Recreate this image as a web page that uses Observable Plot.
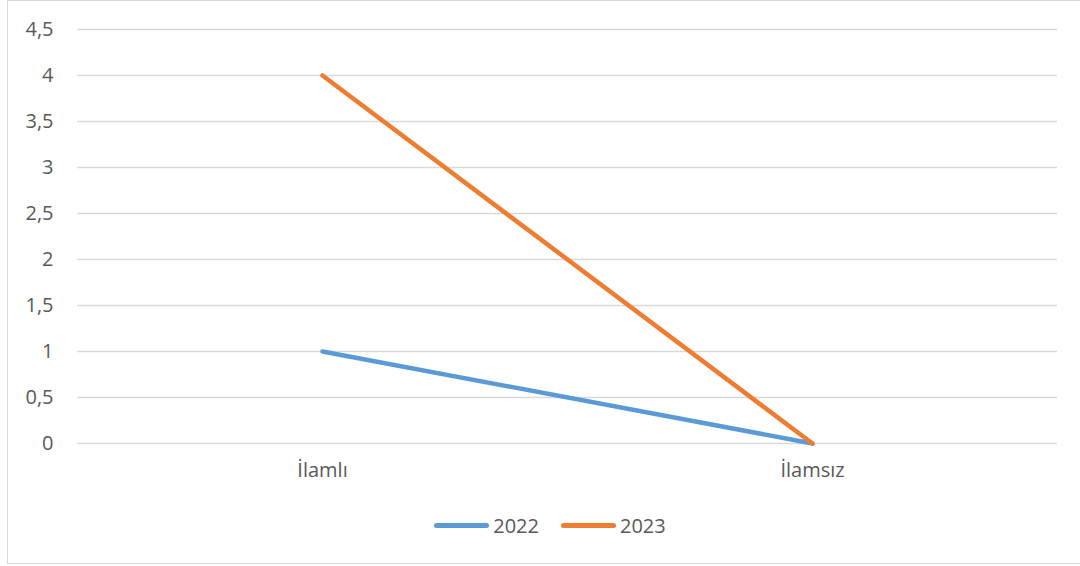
<!DOCTYPE html>
<html>
<head>
<meta charset="utf-8">
<script src="https://cdn.jsdelivr.net/npm/d3@7"></script>
<script src="https://cdn.jsdelivr.net/npm/@observablehq/plot@0.6"></script>
<style>
  html, body { margin: 0; padding: 0; background: #fff; }
  #wrap { position: relative; width: 1080px; height: 566px; overflow: hidden; font-family: "Open Sans", sans-serif; }
  #frame { position: absolute; left: 7px; top: 0px; width: 1080px; height: 564px; border: 1px solid #d9d9d9; box-sizing: border-box; }
  #chart { position: absolute; left: 0; top: 0; }
  #legend { position: absolute; left: 0; width: 1080px; top: 512px; display: flex; justify-content: center; align-items: center; color: #595959; font-size: 20px; padding-left: 20px; box-sizing: border-box; }
  .item { display: flex; align-items: center; margin: 0 11px; }
  .sw { display: inline-block; width: 55px; height: 5px; border-radius: 3px; margin-right: 4px; }
</style>
</head>
<body>
<div id="wrap">
  <div id="frame"></div>
  <div id="chart"></div>
  <div id="legend"></div>
</div>
<script>
const categories = ["İlamlı", "İlamsız"];
const seriesNames = ["2022", "2023"];
const values2022 = [1, 0];
const values2023 = [4, 0];
const yTicks = [0, 0.5, 1, 1.5, 2, 2.5, 3, 3.5, 4, 4.5];
const colors = ["#5B9BD5", "#ED7D31"];

const rows = [];
[values2022, values2023].forEach((vals, i) => {
  categories.forEach((c, j) => rows.push({ category: c, value: vals[j], series: seriesNames[i] }));
});

const fmt = d => String(d).replace(".", ",");

const plot = Plot.plot({
  width: 1080,
  height: 500,
  marginLeft: 77,
  marginRight: 23,
  marginTop: 29,
  marginBottom: 57,
  style: { fontFamily: "'Open Sans', sans-serif", fontSize: "20px", color: "#595959", background: "transparent" },
  x: { type: "band", domain: categories, padding: 0, label: null },
  y: { domain: [0, 4.5], label: null },
  color: { domain: seriesNames, range: colors },
  marks: [
    Plot.gridY(yTicks, { stroke: "#d9d9d9", strokeOpacity: 1, strokeWidth: 1.3 }),
    Plot.axisY(yTicks, { tickSize: 0, tickPadding: 24, tickFormat: fmt, label: null, fill: "#595959", fontSize: 20 }),
    Plot.axisX({ tickSize: 0, tickPadding: 19, label: null, fill: "#595959", fontSize: 20 }),
    Plot.line(rows, { x: "category", y: "value", z: "series", stroke: "series", strokeWidth: 4.5, strokeLinecap: "round", strokeLinejoin: "round" })
  ]
});
document.getElementById("chart").appendChild(plot);

const legend = document.getElementById("legend");
seriesNames.forEach((s, i) => {
  const item = document.createElement("div");
  item.className = "item";
  const sw = document.createElement("span");
  sw.className = "sw";
  sw.style.background = colors[i];
  const t = document.createElement("span");
  t.textContent = s;
  item.appendChild(sw);
  item.appendChild(t);
  legend.appendChild(item);
});
</script>
</body>
</html>
